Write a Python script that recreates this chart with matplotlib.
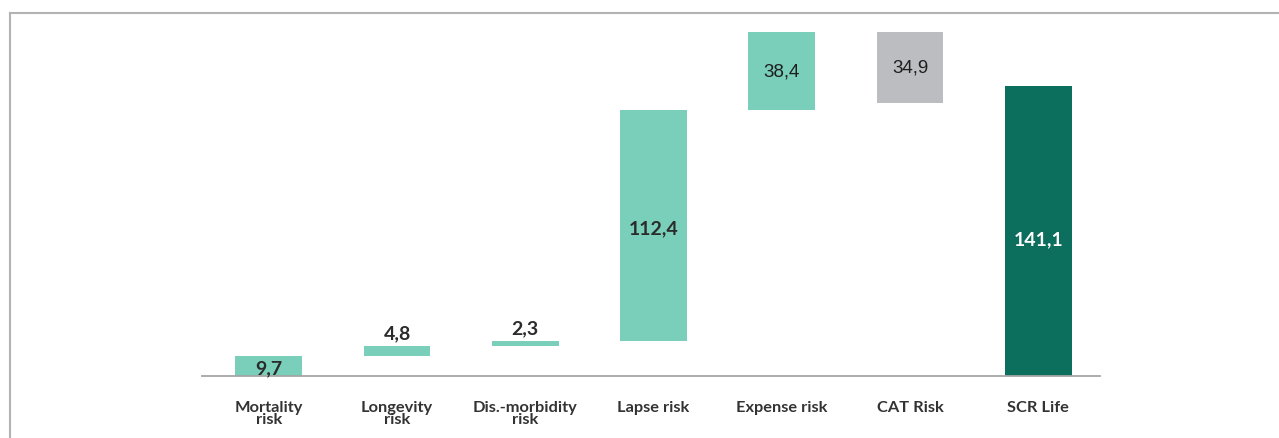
import numpy as np
import matplotlib
matplotlib.use("Agg")
from matplotlib import pyplot as plt
from matplotlib.lines import Line2D

# data
categories = ["Mortality\nrisk", "Longevity\nrisk", "Dis.-morbidity\nrisk", "Lapse risk",
              "Expense risk", "CAT Risk", "SCR Life"]
values = [9.7, 4.8, 2.3, 112.4, 38.4, -34.9, 141.1]
labels = ["9,7", "4,8", "2,3", "112,4", "38,4", "34,9", "141,1"]
kinds = ["step", "step", "step", "step", "step", "diversification", "total"]

col_step = "#79cfb9"
col_div = "#bcbdc1"
col_total = "#0c6e5c"
txt_col = "#2b2b2b"

W, H = 1279, 439
fig = plt.figure(figsize=(W / 100, H / 100), dpi=100)

# axes placed in pixel terms: baseline y=377, x from 202 to 1100
y_base = 377
scale = 2.055  # px per unit
ymax = 167.6
ax_top = y_base - ymax * scale
ax = fig.add_axes([202 / W, 1 - y_base / H, 898 / W, (y_base - ax_top) / H])

# waterfall bottoms
bottoms = []
running = 0.0
for v, k in zip(values, kinds):
    if k == "total":
        bottoms.append(0.0)
    elif v >= 0:
        bottoms.append(running)
        running += v
    else:
        running += v
        bottoms.append(running)
heights = [abs(v) for v in values]
colors = [col_total if k == "total" else (col_div if k == "diversification" else col_step) for k in kinds]

x = np.arange(len(categories))
ax.bar(x, heights, bottom=bottoms, width=0.52, color=colors, zorder=2)

# value labels
lato = ["Lato", "DejaVu Sans"]
for i, (b, h, lab, k) in enumerate(zip(bottoms, heights, labels, kinds)):
    if h < 8:
        ax.text(i, b + h + 2.3, lab, ha="center", va="bottom", fontsize=14,
                fontweight="bold", family=lato, color=txt_col)
    elif k == "total":
        ax.text(i, b + h / 2 - 4, lab, ha="center", va="center", fontsize=14,
                fontweight="bold", family=lato, color="white")
    elif i >= 4:
        ax.text(i, b + h / 2, lab, ha="center", va="center", fontsize=13.5,
                fontweight="normal", family=["Liberation Sans", "DejaVu Sans"], color="#1e1e1e")
    else:
        ax.text(i, b + h / 2 - 1, lab, ha="center", va="center", fontsize=14,
                fontweight="bold", family=lato, color=txt_col)

ax.set_xlim(-0.52, 6.48)
ax.set_ylim(0, ymax)
ax.set_xticks(x)
ax.set_xticklabels(categories, fontsize=11.8, fontweight="bold", family=lato,
                   color="#333333", linespacing=0.85, va="top")
ax.tick_params(axis="x", length=0, pad=17)
ax.set_yticks([])
for s in ["top", "right", "left"]:
    ax.spines[s].set_visible(False)
ax.spines["bottom"].set_color("#a6a6a6")
ax.spines["bottom"].set_linewidth(1.3)

# outer frame (top and left edges)
fig.add_artist(Line2D([9.5 / W, 1], [1 - 13.5 / H, 1 - 13.5 / H], color="#b3b3b3", lw=1.5))
fig.add_artist(Line2D([9.5 / W, 9.5 / W], [0, 1 - 13.5 / H], color="#b3b3b3", lw=1.5))

fig.savefig("out.png", dpi=100)
